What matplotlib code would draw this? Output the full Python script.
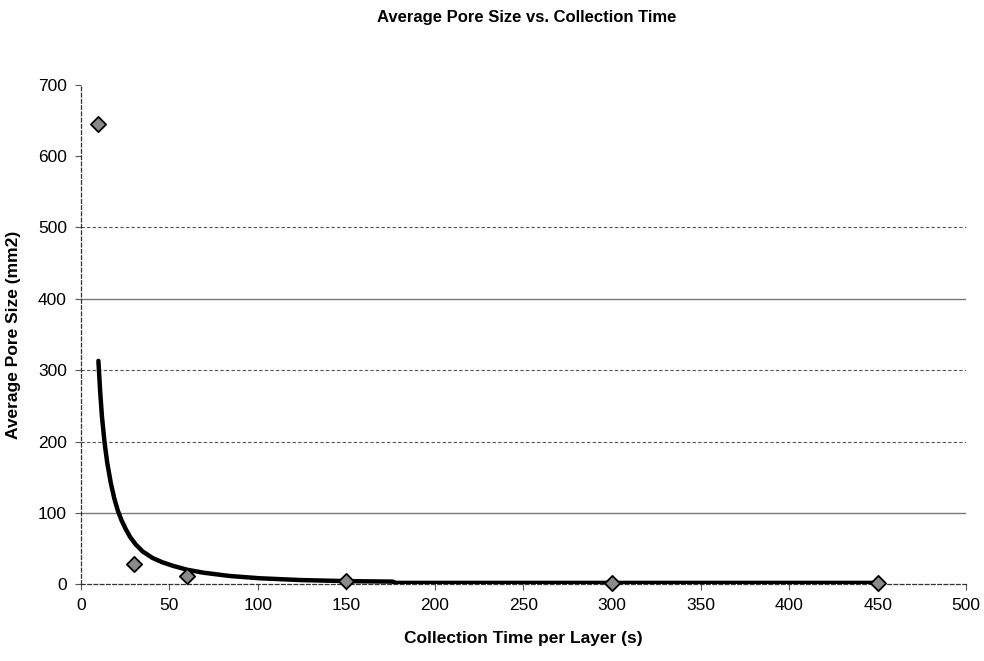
import matplotlib
matplotlib.use("Agg")
import matplotlib.pyplot as plt

plt.rcParams['font.family'] = ['Liberation Sans', 'DejaVu Sans']

# measured points
collection_time = [10, 30, 60, 150, 300, 450]
pore_size = [645, 28, 12, 5, 2, 2]

# trend line
trend_x = [10, 11, 12, 13.5, 15, 17, 19, 21, 23, 25.5, 28, 31, 35, 40.5, 46, 52, 60, 69,
           84, 101, 124, 150, 176, 178, 300, 450]
trend_y = [313, 270, 235, 198, 170, 142, 120, 103, 90, 77, 66, 56, 46, 37, 31, 26, 20.5, 16.4,
           11.7, 8.5, 6, 4.5, 3.8, 2, 2, 2]

x_ticks = [0, 50, 100, 150, 200, 250, 300, 350, 400, 450, 500]
y_ticks = [0, 100, 200, 300, 400, 500, 600, 700]

fig = plt.figure(figsize=(9.84, 6.61), dpi=100)
ax = fig.add_axes([0.082, 0.116, 0.900, 0.756])

# grid lines, mixed styles as in the scan
ax.axhline(100, color='#777777', lw=1.0, zorder=1)
ax.axhline(400, color='#777777', lw=1.0, zorder=1)
for g in [200, 300, 500]:
    ax.axhline(g, color='#555555', lw=0.8, ls=(0, (3, 2)), zorder=1)

ax.plot(trend_x, trend_y, color='black', lw=3.2, solid_joinstyle='round',
        solid_capstyle='round', zorder=3)
ax.scatter(collection_time, pore_size, marker='D', s=60, facecolor='#8a8a8a',
           edgecolor='black', linewidths=1.3, zorder=4, clip_on=False)

ax.set_xlim(0, 500)
ax.set_ylim(0, 700)
ax.set_xticks(x_ticks)
ax.set_yticks(y_ticks)
ax.tick_params(labelsize=12.5, length=4, width=0.8, color='#555555', pad=6)

for side in ['top', 'right']:
    ax.spines[side].set_visible(False)
for side in ['left', 'bottom']:
    ax.spines[side].set_linestyle((0, (3, 2)))
    ax.spines[side].set_color('#333333')
    ax.spines[side].set_linewidth(0.9)

ax.set_xlabel('Collection Time per Layer (s)', fontsize=12.5, fontweight='bold', labelpad=13)
ax.set_ylabel('Average Pore Size (mm2)', fontsize=12.5, fontweight='bold', labelpad=12)
fig.text(0.535, 0.973, 'Average Pore Size vs. Collection Time', ha='center', va='center',
         fontsize=12, fontweight='bold')

fig.savefig('out.png', dpi=100, facecolor='white')
